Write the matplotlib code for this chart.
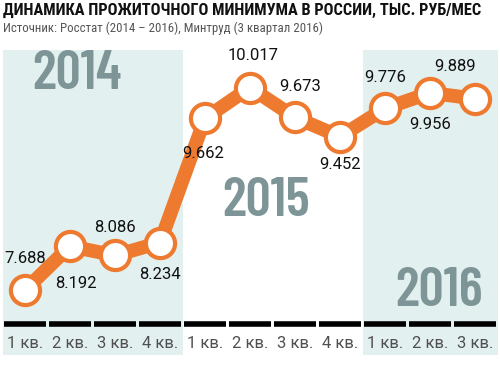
import matplotlib.pyplot as plt

quarters = ["1 кв.", "2 кв.", "3 кв.", "4 кв.", "1 кв.", "2 кв.", "3 кв.", "4 кв.", "1 кв.", "2 кв.", "3 кв."]
values = [7.688, 8.192, 8.086, 8.234, 9.662, 10.017, 9.673, 9.452, 9.776, 9.956, 9.889]
value_labels = ["7.688", "8.192", "8.086", "8.234", "9.662", "10.017", "9.673", "9.452", "9.776", "9.956", "9.889"]
years = ["2014", "2015", "2016"]

ORANGE = "#ee7a30"
BAND = "#e3f0f0"
YEAR_GRAY = "#7e9597"
NARROW = ["Roboto Condensed", "PT Sans Narrow", "Roboto"]
DIGITS = ["Barlow Condensed", "Roboto Condensed", "Roboto"]

# label offsets in points (dx, dy)
offsets = [(0, 23), (4, -27), (0, 20), (0, -23), (-1, -25), (2, 23), (4, 22), (0, -20),
           (0, 22), (0, -23), (-14, 23)]

fig = plt.figure(figsize=(5, 3.84), dpi=100)
ax = fig.add_axes([0.005, 0.0755, 0.99, 0.794])
x = list(range(len(values)))
ax.set_xlim(-0.5, 10.5)
ax.set_ylim(6.941, 10.447)
ax.axis("off")

ax.axvspan(-0.5, 3.5, color=BAND, lw=0, zorder=0)
ax.axvspan(7.5, 10.6, color=BAND, lw=0, zorder=0)

year_pos = [(1.15, 10.17), (5.35, 8.71), (9.2, 7.67)]
for yr, (xx, yy) in zip(years, year_pos):
    ax.text(xx, yy, yr, ha="center", va="center", fontsize=40, fontweight="semibold",
            color=YEAR_GRAY, family=DIGITS, zorder=1)

ax.plot(x, values, color=ORANGE, lw=10, solid_joinstyle="round", solid_capstyle="round", zorder=2)
ax.plot(x, values, "o", ms=21, mfc="white", mec=ORANGE, mew=3, zorder=3)

for xi, v, lab, (dx, dy) in zip(x, values, value_labels, offsets):
    ax.annotate(lab, (xi, v), xytext=(dx, dy), textcoords="offset points",
                ha="center", va="center", fontsize=12, color="#111111",
                family="Roboto", zorder=4)

trans = ax.get_xaxis_transform()
for xi, q in zip(x, quarters):
    ax.plot([xi - 0.46, xi + 0.46], [0.102, 0.102], color="black", lw=4,
            solid_capstyle="butt", transform=trans, clip_on=False)
    ax.text(xi, 0.038, q, transform=trans, ha="center", va="center",
            fontsize=12, color="#505050", family="Roboto")

fig.text(0.006, 0.972, "ДИНАМИКА ПРОЖИТОЧНОГО МИНИМУМА В РОССИИ, ТЫС. РУБ/МЕС",
         ha="left", va="center", fontsize=11.8, fontweight="bold", color="#111111", family=NARROW)
fig.text(0.006, 0.927, "Источник: Росстат (2014 – 2016), Минтруд (3 квартал 2016)",
         ha="left", va="center", fontsize=9.3, color="#555555", family=NARROW)

fig.savefig("out.png", dpi=100)
